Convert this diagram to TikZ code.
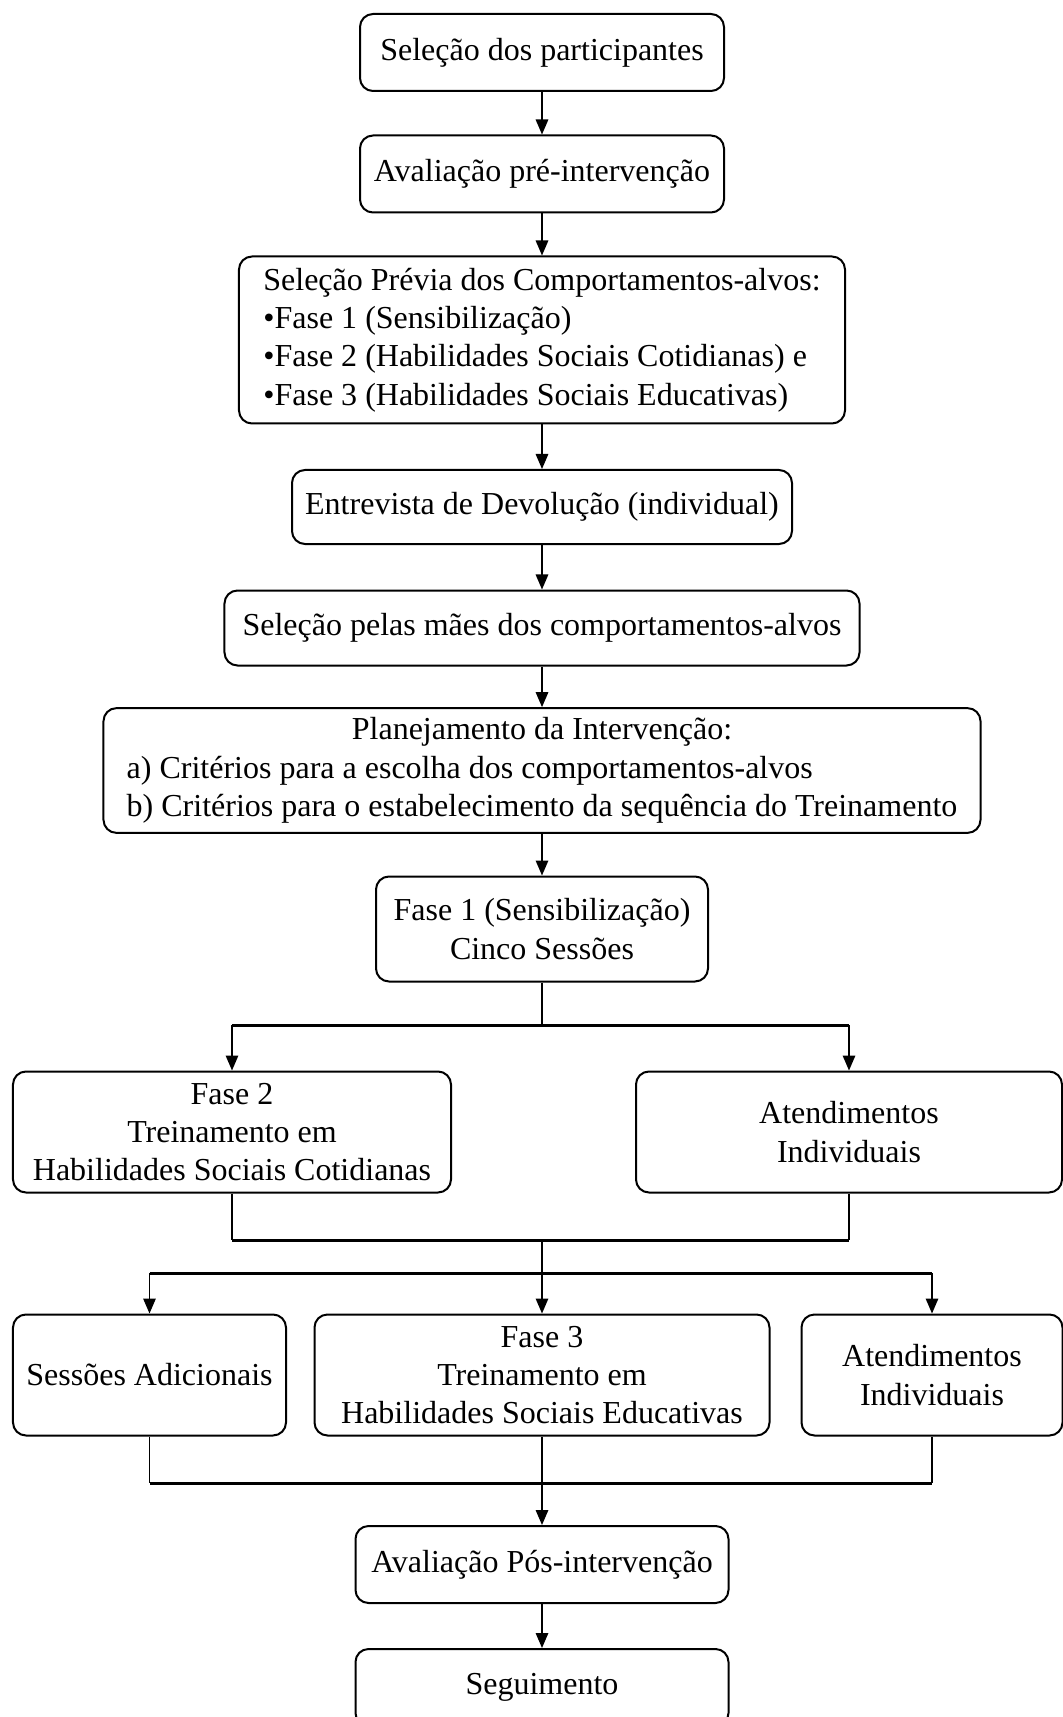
\documentclass[tikz,border=0pt]{standalone}
\usepackage{fontspec}
\setmainfont{Liberation Serif}
\usetikzlibrary{arrows.meta}

\tikzset{
  etapa/.style={draw, rounded corners=5.2pt, line width=0.8pt, align=center,
    inner sep=2pt, font=\fontsize{12.8}{15.3}\selectfont},
  seta/.style={-{Triangle[length=6pt,width=5pt]}, line width=0.6pt},
  linha/.style={line width=0.6pt},
  barra/.style={line width=1.2pt},
}

\begin{document}
\begin{tikzpicture}[x=0.4pt,y=-0.4pt]
  \useasboundingbox (0,0) rectangle (1063,1717);

  % etapas em coluna
  \node[etapa, minimum width=145.6pt, minimum height=30.8pt] (selecao) at (542,52.5) {Seleção dos participantes};
  \node[etapa, minimum width=145.6pt, minimum height=30.8pt] (preaval) at (542,174) {Avaliação pré-intervenção};
  \node[etapa, align=left, minimum width=242.4pt, minimum height=66.8pt] (previa) at (542,340)
    {Seleção Prévia dos Comportamentos-alvos:\\
     \textbullet Fase 1 (Sensibilização)\\
     \textbullet Fase 2 (Habilidades Sociais Cotidianas) e\\
     \textbullet Fase 3 (Habilidades Sociais Educativas)};
  \node[etapa, minimum width=200pt, minimum height=29.6pt] (devol) at (542,507) {Entrevista de Devolução (individual)};
  \node[etapa, minimum width=254pt, minimum height=30pt] (maes) at (542,628) {Seleção pelas mães dos comportamentos-alvos};
  \node[etapa, minimum width=350.8pt, minimum height=48.8pt] (plano) at (542,770.5)
    {\begin{tabular}{@{}l@{}}
     \multicolumn{1}{@{}c@{}}{Planejamento da Intervenção:}\\
     a) Critérios para a escolha dos comportamentos-alvos\\
     b) Critérios para o estabelecimento da sequência do Treinamento
     \end{tabular}};
  \node[etapa, minimum width=132.8pt, minimum height=42pt] (fase1) at (542,929) {Fase 1 (Sensibilização)\\Cinco Sessões};

  % fase 2 e atendimentos
  \node[etapa, minimum width=175.2pt, minimum height=48.4pt] (fase2) at (232,1132) {Fase 2\\Treinamento em\\Habilidades Sociais Cotidianas};
  \node[etapa, minimum width=170.4pt, minimum height=48.4pt] (atend1) at (849,1132) {Atendimentos\\Individuais};

  % fase 3, sessoes e atendimentos
  \node[etapa, minimum width=109.2pt, minimum height=48.4pt] (sessoes) at (149.5,1375) {Sessões Adicionais};
  \node[etapa, minimum width=182pt, minimum height=48.4pt] (fase3) at (542,1375) {Fase 3\\Treinamento em\\Habilidades Sociais Educativas};
  \node[etapa, minimum width=104.4pt, minimum height=48.4pt] (atend2) at (932,1375) {Atendimentos\\Individuais};

  % final
  \node[etapa, minimum width=149.2pt, minimum height=30.8pt] (posaval) at (542,1564.5) {Avaliação Pós-intervenção};
  \node[etapa, minimum width=149.2pt, minimum height=30.8pt] (seguim) at (542,1687.5) {Seguimento};

  % setas simples
  \draw[seta] (selecao) -- (preaval);
  \draw[seta] (preaval) -- (previa);
  \draw[seta] (previa) -- (devol);
  \draw[seta] (devol) -- (maes);
  \draw[seta] (maes) -- (plano);
  \draw[seta] (plano) -- (fase1);

  % divide em dois
  \coordinate (div1) at (542,1025);
  \draw[linha] (fase1.south) -- (div1);
  \draw[barra] (fase2.north |- div1) -- (atend1.north |- div1);
  \draw[seta] (fase2.north |- div1) -- (fase2.north);
  \draw[seta] (atend1.north |- div1) -- (atend1.north);

  % junta e divide em tres
  \coordinate (jun1) at (542,1240);
  \coordinate (div2) at (542,1273);
  \draw[linha] (fase2.south) -- (fase2.south |- jun1);
  \draw[linha] (atend1.south) -- (atend1.south |- jun1);
  \draw[barra] (fase2.south |- jun1) -- (atend1.south |- jun1);
  \draw[linha] (jun1) -- (div2);
  \draw[barra] (sessoes.north |- div2) -- (atend2.north |- div2);
  \draw[seta] (sessoes.north |- div2) -- (sessoes.north);
  \draw[seta] (div2) -- (fase3.north);
  \draw[seta] (atend2.north |- div2) -- (atend2.north);

  % junta de novo
  \coordinate (jun2) at (542,1483);
  \draw[linha] (sessoes.south) -- (sessoes.south |- jun2);
  \draw[linha] (atend2.south) -- (atend2.south |- jun2);
  \draw[barra] (sessoes.south |- jun2) -- (atend2.south |- jun2);
  \draw[seta] (fase3.south) -- (posaval.north);
  \draw[seta] (posaval) -- (seguim);
\end{tikzpicture}
\end{document}
